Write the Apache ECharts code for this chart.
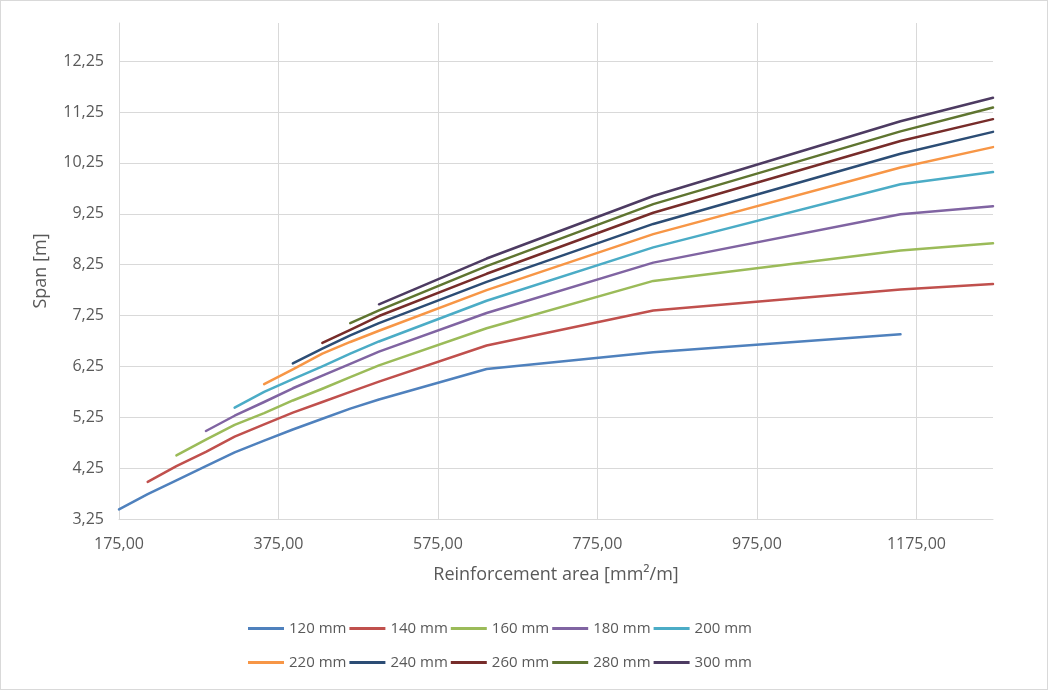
<!DOCTYPE html>
<html>
<head>
<meta charset="utf-8">
<script src="https://cdn.jsdelivr.net/npm/echarts@6/dist/echarts.min.js"></script>
<style>
  html, body { margin: 0; padding: 0; background: #ffffff; }
  #chart { width: 1048px; height: 690px; box-sizing: border-box; border: 1px solid #d9d9d9; }
</style>
</head>
<body>
<div id="chart"></div>
<script>
// Reinforcement area [mm²/m] at which each span value was computed
const area = [175, 211, 247, 284, 320, 357, 393, 430, 465, 501, 636, 845, 1155, 1271];

// Span [m] per slab thickness (null = not computed for that area)
const span120 = [3.44, 3.74, 4.01, 4.29, 4.56, 4.79, 5.01, 5.22, 5.42, 5.60, 6.20, 6.53, 6.88, null];
const span140 = [null, 3.98, 4.29, 4.57, 4.87, 5.11, 5.34, 5.55, 5.75, 5.95, 6.66, 7.35, 7.76, 7.87];
const span160 = [null, null, 4.50, 4.81, 5.10, 5.33, 5.58, 5.81, 6.04, 6.27, 7.00, 7.93, 8.53, 8.67];
const span180 = [null, null, null, 4.98, 5.28, 5.55, 5.82, 6.07, 6.30, 6.54, 7.30, 8.29, 9.24, 9.40];
const span200 = [null, null, null, null, 5.44, 5.75, 6.00, 6.25, 6.50, 6.74, 7.54, 8.59, 9.83, 10.07];
const span220 = [null, null, null, null, null, 5.90, 6.19, 6.50, 6.73, 6.95, 7.75, 8.85, 10.16, 10.56];
const span240 = [null, null, null, null, null, null, 6.31, 6.60, 6.86, 7.10, 7.91, 9.05, 10.43, 10.86];
const span260 = [null, null, null, null, null, null, null, 6.71, 6.97, 7.24, 8.07, 9.27, 10.68, 11.11];
const span280 = [null, null, null, null, null, null, null, null, 7.10, 7.35, 8.22, 9.44, 10.87, 11.34];
const span300 = [null, null, null, null, null, null, null, null, null, 7.47, 8.37, 9.60, 11.07, 11.53];

const seriesNames = ['120 mm', '140 mm', '160 mm', '180 mm', '200 mm',
                     '220 mm', '240 mm', '260 mm', '280 mm', '300 mm'];
const seriesSpans = [span120, span140, span160, span180, span200,
                     span220, span240, span260, span280, span300];
const seriesColors = ['#4f81bd', '#c0504d', '#9bbb59', '#8064a2', '#4bacc6',
                      '#f79646', '#2c4d75', '#772c2a', '#5f7530', '#4d3b62'];

// Axis tick labels
const xTicks = [175, 375, 575, 775, 975, 1175];
const yTicks = [3.25, 4.25, 5.25, 6.25, 7.25, 8.25, 9.25, 10.25, 11.25, 12.25];

const fontFamily = '"Open Sans", "Noto Sans", sans-serif';
const textColor = '#595959';
const gridColor = '#d9d9d9';
const fmt = v => v.toFixed(2).replace('.', ',');

const series = seriesNames.map((name, i) => ({
  name: name,
  type: 'line',
  showSymbol: false,
  symbol: 'none',
  smooth: false,
  connectNulls: false,
  color: seriesColors[i],
  lineStyle: { width: 2.5, cap: 'round', join: 'round' },
  data: area.map((a, k) => seriesSpans[i][k] == null ? null : [a, seriesSpans[i][k]]).filter(p => p !== null)
}));

const legendBase = {
  orient: 'horizontal',
  left: 242,
  padding: 5,
  icon: 'rect',
  itemWidth: 36,
  itemHeight: 3,
  itemGap: 3,
  textStyle: { color: textColor, fontSize: 15, fontFamily: fontFamily, width: 53, padding: [0, 0, 0, 0] }
};

const chart = echarts.init(document.getElementById('chart'), null, { renderer: 'canvas' });
chart.setOption({
  animation: false,
  backgroundColor: '#ffffff',
  grid: { left: 118, right: 54, top: 22, bottom: 170, containLabel: false },
  legend: [
    Object.assign({}, legendBase, { top: 615, data: seriesNames.slice(0, 5) }),
    Object.assign({}, legendBase, { top: 649, data: seriesNames.slice(5) })
  ],
  xAxis: {
    type: 'value',
    min: 175,
    max: 1271,
    interval: 200,
    name: 'Reinforcement area [mm²/m]',
    nameLocation: 'middle',
    nameGap: 47,
    nameTextStyle: { color: textColor, fontSize: 18, fontFamily: fontFamily },
    axisLine: { show: true, lineStyle: { color: gridColor, width: 1 } },
    axisTick: { show: false, customValues: xTicks },
    axisLabel: { customValues: xTicks, color: textColor, fontSize: 16, fontFamily: fontFamily, margin: 17, formatter: fmt },
    splitLine: { show: true, lineStyle: { color: gridColor, width: 1 } }
  },
  yAxis: {
    type: 'value',
    min: 3.25,
    max: 13,
    interval: 1,
    name: 'Span [m]',
    nameLocation: 'middle',
    nameGap: 69,
    nameTextStyle: { color: textColor, fontSize: 18, fontFamily: fontFamily },
    axisLine: { show: true, lineStyle: { color: gridColor, width: 1 } },
    axisTick: { show: false, customValues: yTicks },
    axisLabel: { customValues: yTicks, color: textColor, fontSize: 16, fontFamily: fontFamily, margin: 15, formatter: fmt },
    splitLine: { show: true, lineStyle: { color: gridColor, width: 1 } }
  },
  series: series
});
</script>
</body>
</html>
